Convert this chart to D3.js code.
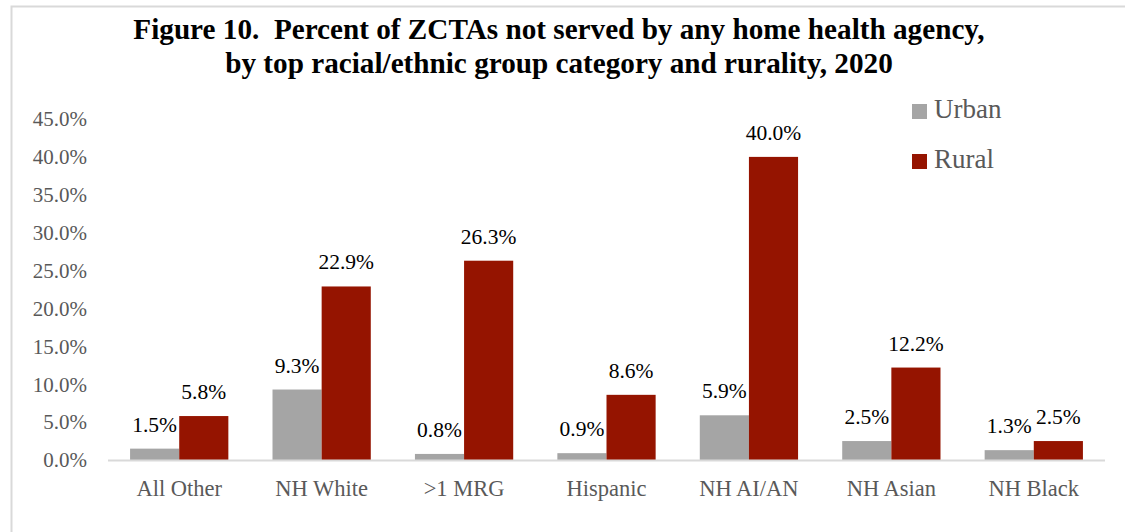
<!DOCTYPE html>
<html>
<head>
<meta charset="utf-8">
<script src="https://cdn.jsdelivr.net/npm/d3@7"></script>
<style>
  body { margin: 0; background: #fff; }
  svg { display: block; font-family: "Liberation Serif", "DejaVu Serif", serif; }
  .title { white-space: pre; }
</style>
</head>
<body>
<div class="stage"></div>
<script>
// chart data
var categories = ["All Other", "NH White", ">1 MRG", "Hispanic", "NH AI/AN", "NH Asian", "NH Black"];
var urban = [1.5, 9.3, 0.8, 0.9, 5.9, 2.5, 1.3];
var rural = [5.8, 22.9, 26.3, 8.6, 40.0, 12.2, 2.5];
var seriesNames = ["Urban", "Rural"];
var yTicks = [0, 5, 10, 15, 20, 25, 30, 35, 40, 45];

var colors = {Urban: "#a5a5a5", Rural: "#951400"};
var width = 1125, height = 532;
var margin = {top: 119, right: 20, bottom: 72, left: 108};

var svg = d3.select(".stage").append("svg")
    .attr("width", width)
    .attr("height", height);

// outer frame (only left and top visible in reference)
svg.append("rect")
    .attr("x", 11.5).attr("y", 6.5)
    .attr("width", 1200).attr("height", 600)
    .attr("fill", "none")
    .attr("stroke", "#d9d9d9")
    .attr("stroke-width", 2);

// title
var title = svg.append("text")
    .attr("class", "title")
    .attr("text-anchor", "middle")
    .attr("font-weight", "bold")
    .attr("font-size", "29.2px")
    .attr("fill", "#000");
title.append("tspan").attr("x", 559).attr("y", 39)
    .text("Figure 10.  Percent of ZCTAs not served by any home health agency,");
title.append("tspan").attr("x", 559).attr("y", 73)
    .text("by top racial/ethnic group category and rurality, 2020");

var x = d3.scaleBand()
    .domain(categories)
    .range([margin.left, 1105])
    .paddingInner(0.31)
    .paddingOuter(0.155);

var xs = d3.scaleBand()
    .domain(seriesNames)
    .range([0, x.bandwidth()]);

var y = d3.scaleLinear()
    .domain([0, 45])
    .range([460, margin.top]);

// y axis labels
svg.append("g")
    .selectAll("text")
    .data(yTicks)
    .enter().append("text")
    .attr("x", 87)
    .attr("y", function(d) { return y(d); })
    .attr("dy", "0.35em")
    .attr("text-anchor", "end")
    .attr("font-size", "21px")
    .attr("fill", "#595959")
    .text(function(d) { return d.toFixed(1) + "%"; });

// bars
var rows = categories.map(function(c, i) {
  return {cat: c, values: [{s: "Urban", v: urban[i]}, {s: "Rural", v: rural[i]}]};
});

var groups = svg.selectAll(".cat")
    .data(rows)
    .enter().append("g")
    .attr("class", "cat")
    .attr("transform", function(d) { return "translate(" + x(d.cat) + ",0)"; });

groups.selectAll("rect")
    .data(function(d) { return d.values; })
    .enter().append("rect")
    .attr("x", function(d) { return xs(d.s); })
    .attr("y", function(d) { return y(d.v); })
    .attr("width", xs.bandwidth())
    .attr("height", function(d) { return y(0) - y(d.v); })
    .attr("fill", function(d) { return colors[d.s]; });

groups.selectAll(".val")
    .data(function(d) { return d.values; })
    .enter().append("text")
    .attr("class", "val")
    .attr("x", function(d) { return xs(d.s) + xs.bandwidth() / 2; })
    .attr("y", function(d) { return y(d.v) - 17; })
    .attr("text-anchor", "middle")
    .attr("font-size", "21.5px")
    .attr("fill", "#000")
    .text(function(d) { return d.v.toFixed(1) + "%"; });

// baseline
svg.append("line")
    .attr("x1", margin.left).attr("x2", 1105)
    .attr("y1", y(0) + 0.5).attr("y2", y(0) + 0.5)
    .attr("stroke", "#d9d9d9")
    .attr("stroke-width", 2);

// category labels
svg.append("g")
    .selectAll("text")
    .data(categories)
    .enter().append("text")
    .attr("x", function(d) { return x(d) + x.bandwidth() / 2; })
    .attr("y", 496)
    .attr("text-anchor", "middle")
    .attr("font-size", "22.5px")
    .attr("fill", "#595959")
    .text(function(d) { return d; });

// legend
var legend = svg.selectAll(".legend")
    .data(seriesNames)
    .enter().append("g")
    .attr("class", "legend")
    .attr("transform", function(d, i) { return "translate(912," + (104 + i * 50) + ")"; });

legend.append("rect")
    .attr("width", 15).attr("height", 15)
    .attr("fill", function(d) { return colors[d]; });

legend.append("text")
    .attr("x", 22)
    .attr("y", 14)
    .attr("font-size", "27px")
    .attr("fill", "#595959")
    .text(function(d) { return d; });
</script>
</body>
</html>
